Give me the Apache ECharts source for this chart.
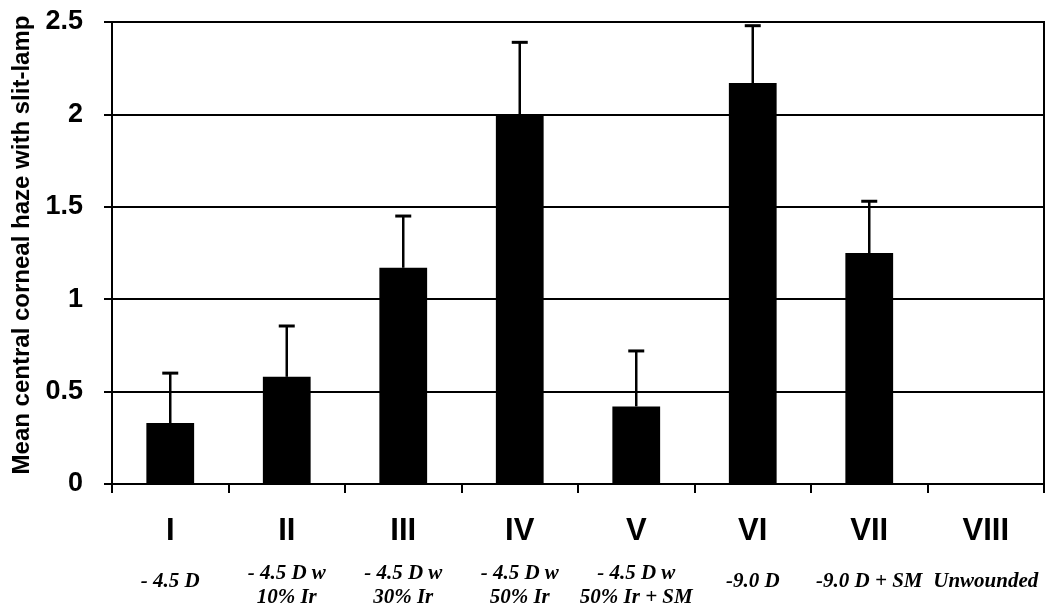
<!DOCTYPE html>
<html>
<head>
<meta charset="utf-8">
<script src="https://cdn.jsdelivr.net/npm/echarts@6/dist/echarts.min.js"></script>
<style>html,body{margin:0;padding:0;background:#fff}#c{width:1050px;height:616px}</style>
</head>
<body>
<div id="c"></div>
<script>
const categories = ['I', 'II', 'III', 'IV', 'V', 'VI', 'VII', 'VIII'];
const subtitles = [
  ['- 4.5 D'],
  ['- 4.5 D w', '10% Ir'],
  ['- 4.5 D w', '30% Ir'],
  ['- 4.5 D w', '50% Ir'],
  ['- 4.5 D w', '50% Ir + SM'],
  ['-9.0 D'],
  ['-9.0 D + SM'],
  ['Unwounded']
];
const means = [0.33, 0.58, 1.17, 2.0, 0.42, 2.17, 1.25, 0];
const errors = [0.27, 0.275, 0.28, 0.39, 0.30, 0.31, 0.28, 0];
const yTicks = [0, 0.5, 1, 1.5, 2, 2.5];

const chart = echarts.init(document.getElementById('c'), null, {renderer: 'canvas'});
const errData = means.map((m, i) => [i, m, m + errors[i]]);

chart.setOption({
  animation: false,
  backgroundColor: '#fff',
  grid: {left: 112, right: 6, top: 22, bottom: 132, show: true, borderColor: '#000', borderWidth: 2, backgroundColor: 'transparent'},
  xAxis: {
    type: 'category',
    data: categories,
    boundaryGap: true,
    axisLine: {show: true, lineStyle: {color: '#000', width: 2}},
    axisTick: {show: true, length: 9, lineStyle: {color: '#000', width: 2}},
    axisLabel: {
      margin: 30,
      interval: 0,
      formatter: function (v, i) {
        const s = subtitles[i];
        let out = '{r|' + v + '}\n';
        if (s.length === 1) {
          out += '{g2| }\n{s|' + s[0] + '}';
        } else {
          out += '{g| }\n{s|' + s[0] + '}\n{s|' + s[1] + '}';
        }
        return out;
      },
      rich: {
        r: {fontFamily: 'Liberation Sans, Arial, sans-serif', fontWeight: 'bold', fontSize: 31, lineHeight: 34, color: '#000'},
        g: {fontSize: 4, lineHeight: 14},
        g2: {fontSize: 4, lineHeight: 22},
        s: {fontFamily: 'Liberation Serif, Times New Roman, serif', fontStyle: 'italic', fontWeight: 'bold', fontSize: 21, lineHeight: 24, color: '#000'}
      }
    }
  },
  yAxis: {
    type: 'value',
    min: 0,
    max: 2.5,
    interval: 0.5,
    name: 'Mean central corneal haze with slit-lamp',
    nameLocation: 'middle',
    nameGap: 78,
    nameTextStyle: {fontFamily: 'Liberation Sans, Arial, sans-serif', fontWeight: 'bold', fontSize: 24, color: '#000', padding: [0, 0, 0, 16]},
    axisLine: {show: true, lineStyle: {color: '#000', width: 2}},
    axisTick: {show: true, length: 8, lineStyle: {color: '#000', width: 2}},
    axisLabel: {
      margin: 29,
      fontFamily: 'Liberation Sans, Arial, sans-serif', fontWeight: 'bold', fontSize: 27, color: '#000',
      formatter: function (v) { return yTicks.indexOf(v) >= 0 ? String(v) : ''; }
    },
    splitLine: {show: true, lineStyle: {color: '#000', width: 2}}
  },
  series: [
    {
      type: 'bar',
      data: means,
      barWidth: '41%',
      itemStyle: {color: '#000'},
      z: 2
    },
    {
      type: 'custom',
      data: errData,
      z: 3,
      renderItem: function (params, api) {
        const i = api.value(0);
        const lo = api.value(1);
        const hi = api.value(2);
        if (hi <= lo) return null;
        const p0 = api.coord([i, lo]);
        const p1 = api.coord([i, hi]);
        const half = 8;
        return {
          type: 'group',
          children: [
            {type: 'line', shape: {x1: p0[0], y1: p0[1], x2: p1[0], y2: p1[1]}, style: {stroke: '#000', lineWidth: 2.5}},
            {type: 'line', shape: {x1: p1[0] - half, y1: p1[1], x2: p1[0] + half, y2: p1[1]}, style: {stroke: '#000', lineWidth: 3}}
          ]
        };
      }
    }
  ]
});
</script>
</body>
</html>
